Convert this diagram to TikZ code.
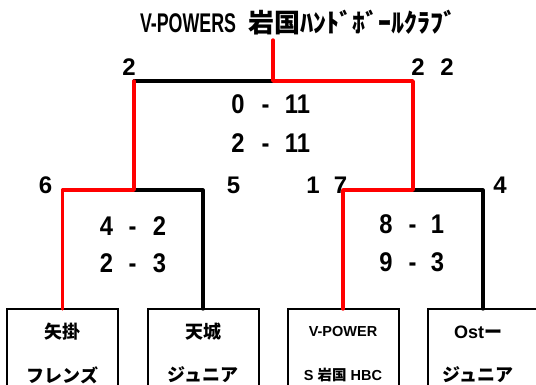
\documentclass[tikz,border=0pt]{standalone}
\usepackage{fontspec}
\setmainfont{Liberation Sans}
\newfontfamily\narrowb{Liberation Sans}[FakeStretch=0.66]
\newfontfamily\scoref{Liberation Sans}[FakeStretch=0.88]
\newfontfamily\jp{Noto Sans CJK JP}
\begin{document}
\begin{tikzpicture}[x=1pt,y=-1pt,
  every node/.style={inner sep=0pt,outer sep=0pt},
  win/.style={draw=red,line width=3.4pt,line join=round,line cap=round},
  lose/.style={draw=black,line width=3.2pt,line join=round,line cap=round},
  seed/.style={anchor=base,font=\fontsize{24}{24}\selectfont\bfseries},
  score/.style={anchor=base,font=\fontsize{27}{27}\selectfont\scoref\bfseries},
  team/.style={draw=black,line width=2pt,minimum width=111pt,minimum height=90pt},
  tname/.style={anchor=center,font=\fontsize{18}{18}\selectfont\bfseries},
  tsmall/.style={anchor=center,font=\fontsize{14.5}{14.5}\selectfont\bfseries}]
\useasboundingbox (0,0) rectangle (536,384);
\fill[white] (0,0) rectangle (536,384);

% title
\node[anchor=base west] (title) at (140,32)
  {\fontsize{27}{27}\selectfont\narrowb\bfseries V-POWERS\hspace{12pt}\jp\bfseries\fontsize{26}{26}\selectfont 岩国ﾊﾝﾄﾞﾎﾞｰﾙｸﾗﾌﾞ};

% team boxes
\node[team] (b1) at (62.5,354) {};
\node[team] (b2) at (203,354) {};
\node[team] (b3) at (343,354) {};
\node[team] (b4) at (483,354) {};

% junction points
\coordinate (top) at (273,40);
\coordinate (fin) at (273,81);
\coordinate (fl) at (134,81);
\coordinate (fr) at (413,81);
\coordinate (sl) at (134,190);
\coordinate (sr) at (413,190);
\coordinate (sl1) at (62.5,190);
\coordinate (sl2) at (203,190);
\coordinate (sr1) at (343,190);
\coordinate (sr2) at (483,190);

% black (losing) lines
\draw[lose] (fin) -- (fl);
\draw[lose] (sl) -- (sl2) -- (b2.north);
\draw[lose] (sr) -- (sr2) -- (b4.north);
% red (winning) lines
\draw[win] (b1.north) -- (sl1) -- (sl) -- (fl);
\draw[win] (b3.north) -- (sr1) -- (sr) -- (fr) -- (fin) -- (top);

% seeds
\node[seed] (s2) at (129,75) {2};
\node[seed] (s22a) at (418,75) {2};
\node[seed] (s22b) at (447,75) {2};
\node[seed] (s6) at (45.5,193) {6};
\node[seed] (s5) at (233.5,193) {5};
\node[seed] (s17a) at (313,193) {1};
\node[seed] (s17b) at (340.5,193) {7};
\node[seed] (s4) at (500,193) {4};

% scores: final
\node[score] (f1a) at (238,113) {0};
\node[score] (f1b) at (265.5,113) {-};
\node[score] (f1c) at (297.5,113) {11};
\node[score] (f2a) at (238,152) {2};
\node[score] (f2b) at (265.5,152) {-};
\node[score] (f2c) at (297.5,152) {11};
% scores: left semi
\node[score] (l1a) at (106.5,235) {4};
\node[score] (l1b) at (132.5,235) {-};
\node[score] (l1c) at (159.5,235) {2};
\node[score] (l2a) at (106.5,272) {2};
\node[score] (l2b) at (132.5,272) {-};
\node[score] (l2c) at (159.5,272) {3};
% scores: right semi
\node[score] (r1a) at (386,233) {8};
\node[score] (r1b) at (412.5,233) {-};
\node[score] (r1c) at (437.5,233) {1};
\node[score] (r2a) at (386,271) {9};
\node[score] (r2b) at (412.5,271) {-};
\node[score] (r2c) at (437.5,271) {3};

% team names
\node[tname] (t1a) at (62.5,332) {\jp\bfseries 矢掛};
\node[tname] (t1b) at (62.5,375) {\jp\bfseries フレンズ};
\node[tname] (t2a) at (203,332) {\jp\bfseries 天城};
\node[tname] (t2b) at (203,375) {\jp\bfseries ジュニア};
\node[tsmall] (t3a) at (343,332) {V-POWER};
\node[tsmall] (t3b) at (343,375) {S {\jp\bfseries 岩国} HBC};
\node[tname] (t4a) at (478,332) {Ost{\jp\bfseries ー}};
\node[tname] (t4b) at (478,375) {\jp\bfseries ジュニア};
\end{tikzpicture}
\end{document}
